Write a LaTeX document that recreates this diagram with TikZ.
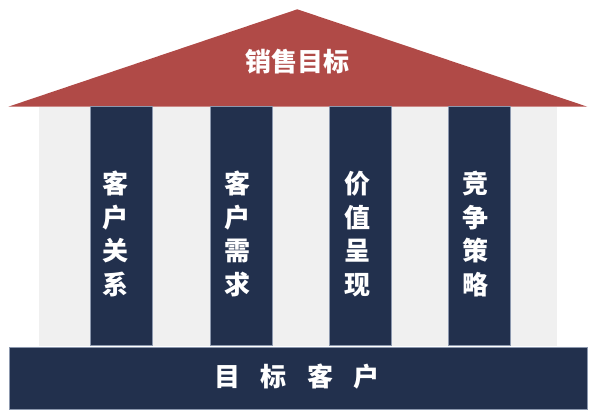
\documentclass[tikz,border=0pt]{standalone}
\usepackage{fontspec}
\newfontfamily\cjk{Noto Sans CJK SC}
\definecolor{roofred}{HTML}{B04A47}
\definecolor{navy}{HTML}{22304D}
\definecolor{wallgray}{HTML}{F0F0F0}
\definecolor{edgeblue}{HTML}{8C98AE}
\tikzset{
  pillar/.style={draw=edgeblue, line width=0.5pt, fill=navy, inner sep=0pt,
    minimum width=62pt, minimum height=239pt},
  pillartext/.style={text=white, inner sep=0pt, align=center,
    font=\cjk\bfseries\fontsize{26}{33.5}\selectfont},
}
\begin{document}
\begin{tikzpicture}[x=1pt,y=-1pt]
  \useasboundingbox (0,0) rectangle (600,418);
  \fill[wallgray] (39,106.7) rectangle (556.7,345.7);
  \fill[roofred] (8.3,106.7) -- (297.3,9.3) -- (587.3,106.7) -- cycle;
  \node[pillartext] (goal) at (297,62) {销售目标};
  \draw
    (121.7,226.2) node[pillar] (p1){}
    (241.3,226.2) node[pillar] (p2){}
    (360.0,226.2) node[pillar] (p3){}
    (479.2,226.2) node[pillar] (p4){};
  \draw
    (115.5,234) node[pillartext] (t1){客\\户\\关\\系}
    (237.5,234) node[pillartext] (t2){客\\户\\需\\求}
    (357.0,234) node[pillartext] (t3){价\\值\\呈\\现}
    (475.5,234) node[pillartext] (t4){竞\\争\\策\\略};
  \node[draw=edgeblue, line width=0.5pt, fill=navy, minimum width=578.4pt,
    minimum height=61.7pt, inner sep=0pt] (base) at (298.5,378.2) {};
  \node[pillartext] (who) at (297.2,377) {目\hspace{20.5pt}标\hspace{20.5pt}客\hspace{20.5pt}户};
\end{tikzpicture}
\end{document}
